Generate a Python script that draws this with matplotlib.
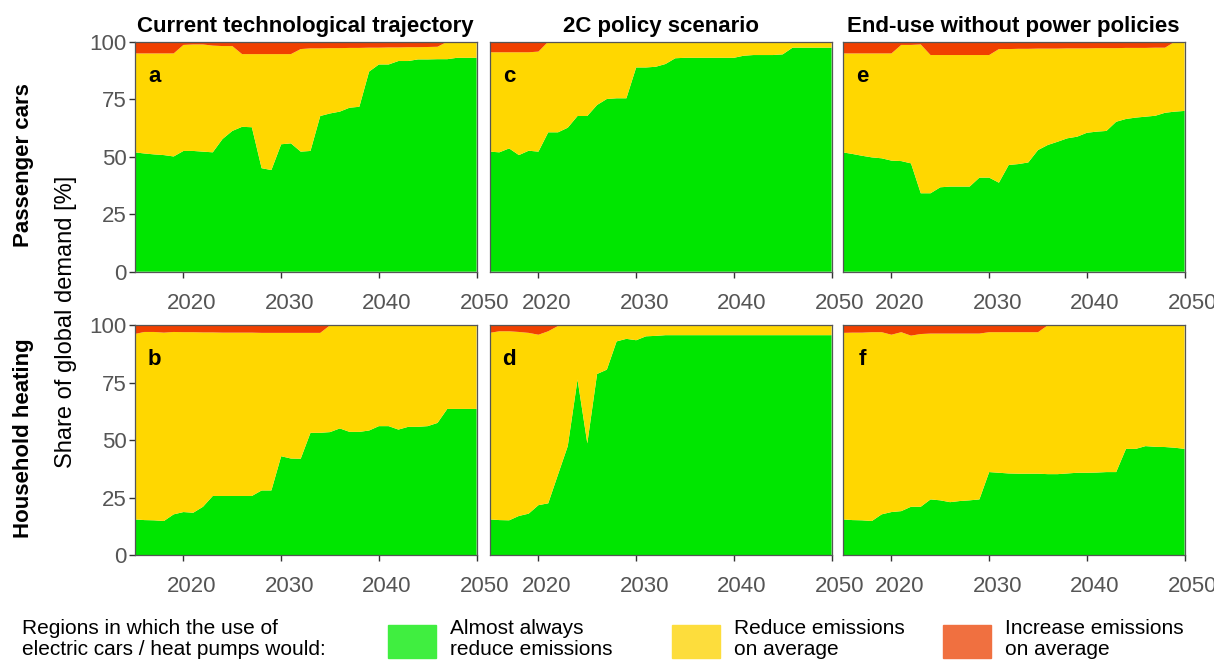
import matplotlib
matplotlib.use("Agg")
import matplotlib.pyplot as plt
import matplotlib.transforms as mtransforms
from matplotlib.patches import Rectangle
import numpy as np

plt.rcParams['font.family'] = ['Liberation Sans', 'DejaVu Sans']

years = np.arange(2015, 2051)

# share of demand in regions where EVs / heat pumps almost always reduce emissions
a_green = [51.9, 51.4, 51.0, 50.7, 50.1, 52.5, 52.5, 52.2, 51.9, 57.7,
           61.2, 63.0, 62.8, 45.0, 44.2, 55.4, 55.8, 52.2, 52.5, 67.7,
           68.8, 69.6, 71.3, 71.7, 87.0, 90.1, 90.1, 91.6, 91.6, 92.3,
           92.3, 92.4, 92.4, 93.0, 93.0, 93.0]
c_green = [52.2, 51.9, 53.6, 50.7, 52.6, 52.2, 60.6, 60.6, 62.6, 67.7,
           67.7, 72.5, 75.1, 75.4, 75.4, 88.8, 88.8, 89.1, 90.3, 92.8,
           93.0, 93.0, 93.0, 93.0, 93.0, 93.0, 93.9, 94.2, 94.2, 94.2,
           94.5, 97.4, 97.4, 97.4, 97.4, 97.4]
e_green = [51.9, 51.2, 50.4, 49.7, 49.3, 48.3, 48.1, 47.1, 34.1, 34.1,
           36.7, 37.0, 37.0, 37.0, 40.9, 40.9, 38.7, 46.4, 46.8, 47.5,
           52.9, 55.1, 56.5, 58.0, 58.7, 60.4, 60.9, 61.2, 65.2, 66.4,
           67.0, 67.4, 67.8, 69.1, 69.6, 69.9]
b_green = [15.5, 15.2, 15.1, 14.8, 17.7, 18.7, 18.4, 21.0, 25.7, 25.7,
           25.7, 25.7, 25.7, 28.1, 28.1, 43.0, 42.0, 41.9, 53.2, 53.2,
           53.5, 55.1, 53.6, 53.6, 54.2, 56.1, 56.1, 54.6, 55.8, 55.8,
           56.1, 57.5, 63.6, 63.6, 63.6, 63.6]
d_green = [15.5, 15.2, 15.1, 17.0, 18.0, 21.7, 22.5, 35.0, 47.4, 76.4,
           48.6, 78.8, 80.7, 93.0, 94.1, 93.5, 95.2, 95.4, 95.7, 95.7,
           95.7, 95.7, 95.7, 95.7, 95.7, 95.7, 95.7, 95.7, 95.7, 95.7,
           95.7, 95.7, 95.7, 95.7, 95.7, 95.7]
f_green = [15.5, 15.2, 15.1, 14.8, 17.7, 18.7, 19.1, 21.0, 21.0, 24.2,
           23.8, 23.0, 23.5, 23.8, 24.2, 36.1, 35.8, 35.5, 35.4, 35.4,
           35.4, 35.2, 35.2, 35.5, 35.8, 35.8, 35.9, 36.1, 36.1, 46.2,
           46.2, 47.4, 47.1, 47.0, 46.7, 46.2]

# share of demand in regions where they reduce emissions at least on average
a_top = [94.9, 94.9, 94.9, 94.9, 94.9, 98.6, 98.8, 98.8, 98.3, 98.1,
         98.1, 94.6, 94.6, 94.6, 94.6, 94.6, 94.6, 96.8, 97.1, 97.1,
         97.2, 97.2, 97.3, 97.3, 97.4, 97.4, 97.5, 97.5, 97.6, 97.6,
         97.7, 97.8, 100, 100, 100, 100]
c_top = [95.4, 95.4, 95.4, 95.4, 95.4, 95.7] + [100] * 30
e_top = [94.9, 94.9, 94.9, 94.9, 94.9, 94.9, 98.6, 98.6, 98.8, 94.2,
         94.2, 94.2, 94.2, 94.2, 94.2, 94.2, 96.8, 96.8, 96.9, 96.9,
         97.0, 97.0, 97.0, 97.1, 97.1, 97.1, 97.2, 97.2, 97.2, 97.3,
         97.3, 97.3, 97.4, 97.4, 100, 100]
b_top = [96.2, 97.1, 97.1, 96.8, 97.1, 97.0, 97.0, 96.9, 96.9, 96.8,
         96.8, 96.8, 96.8, 96.7, 96.7, 96.7, 96.7, 96.7, 96.7, 96.7] + [100] * 16
d_top = [96.7, 97.4, 97.4, 97.1, 96.7, 95.9, 97.4, 99.7, 99.8] + [100] * 27
f_top = [96.7, 96.8, 96.8, 97.0, 97.0, 95.9, 97.0, 95.5, 96.2, 96.4,
         96.4, 96.4, 96.4, 96.4, 96.4, 97.0, 97.0, 97.0, 97.0, 97.0,
         97.0] + [100] * 15

scenarios = ["Current technological trajectory", "2C policy scenario",
             "End-use without power policies"]
sectors = ["Passenger cars", "Household heating"]
letters = [["a", "c", "e"], ["b", "d", "f"]]
greens = [[a_green, c_green, e_green], [b_green, d_green, f_green]]
tops = [[a_top, c_top, e_top], [b_top, d_top, f_top]]

fill_cols = ["#00E600", "#FFD700", "#F04000"]
key_cols = ["#40EE40", "#FDDD3C", "#F07040"]
legend_labels = ["Almost always\nreduce emissions", "Reduce emissions\non average",
                 "Increase emissions\non average"]

W, H = 1214, 662
fig = plt.figure(figsize=(W / 100, H / 100), dpi=100)


def px_box(x0, y0, x1, y1):
    return [x0 / W, 1 - y1 / H, (x1 - x0) / W, (y1 - y0) / H]


col_x = [134.6, 489.6, 842.6]
row_y = [(41.7, 271.7), (325.3, 555.0)]
grey = "#555555"
shift = mtransforms.ScaledTranslation(8 / 100, 0, fig.dpi_scale_trans)

for r in range(2):
    for c in range(3):
        ax = fig.add_axes(px_box(col_x[c], row_y[r][0], col_x[c] + 342, row_y[r][1]))
        g = np.array(greens[r][c])
        t = np.array(tops[r][c])
        ax.stackplot(years, g, t - g, 100 - t, colors=fill_cols, linewidth=0)
        ax.set_xlim(2015, 2050)
        ax.set_ylim(0, 100)
        ax.set_xticks([2020, 2030, 2040, 2050])
        ax.set_yticks([0, 25, 50, 75, 100])
        ax.tick_params(axis="x", length=4, width=1, color="#333333",
                       labelsize=16, labelcolor=grey, pad=11)
        for lab in ax.get_xticklabels():
            lab.set_transform(lab.get_transform() + shift)
        if c == 0:
            ax.tick_params(axis="y", length=4, width=1, color="#333333",
                           labelsize=16, labelcolor=grey, pad=1.5)
        else:
            ax.tick_params(axis="y", left=False, labelleft=False)
        for sp in ax.spines.values():
            sp.set_color("#555555")
            sp.set_linewidth(0.9)
        ax.text(0.058, 0.85, letters[r][c], transform=ax.transAxes,
                fontsize=16, fontweight="bold", ha="center", va="center")
        if r == 0:
            ax.set_title(scenarios[c], fontsize=16, fontweight="bold", pad=7)

# row labels and shared y label
row_mid = [165, 438]
for r in range(2):
    fig.text(24 / W, 1 - row_mid[r] / H, sectors[r], rotation=90, fontsize=16,
             fontweight="bold", ha="center", va="center")
fig.text(66 / W, 1 - 322 / H, "Share of global demand [%]", rotation=90,
         fontsize=17, ha="center", va="center")

# legend along the bottom
fig.text(22 / W, 1 - 639 / H, "Regions in which the use of\nelectric cars / heat pumps would:",
         fontsize=15, ha="left", va="center", linespacing=1.15)
key_x = [388, 672, 943]
for kx, col, lab in zip(key_x, key_cols, legend_labels):
    fig.patches.append(Rectangle((kx / W, 1 - 658 / H), 48 / W, 33 / H,
                                 transform=fig.transFigure, color=col))
    fig.text((kx + 62) / W, 1 - 639 / H, lab, fontsize=15, ha="left",
             va="center", linespacing=1.15)

fig.savefig("out.png", dpi=100)
